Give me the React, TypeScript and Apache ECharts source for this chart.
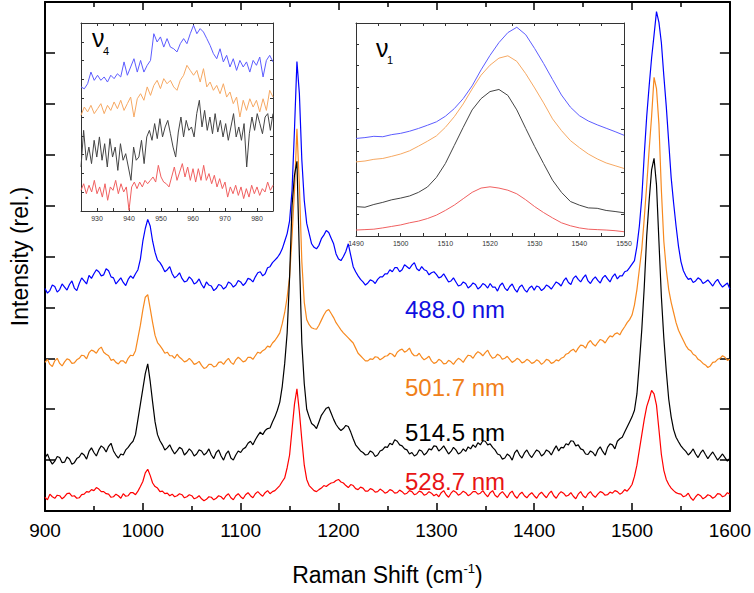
import React, { useEffect, useRef } from "react";
import * as echarts from "echarts";

// ---------- main spectra (x: 900..1600 cm^-1, step 2.5) ----------
const WN_START = 900;
const WN_STEP = 2.5;

// 488.0 nm
const blue488 = [
  4.37, 4.28, 4.33, 4.44, 4.41, 4.30, 4.35, 4.46, 4.40, 4.34, 4.45, 4.52, 4.38, 4.33, 4.47, 4.58, 4.52, 4.46, 4.63, 4.57,
  4.66, 4.74, 4.70, 4.62, 4.64, 4.76, 4.72, 4.60, 4.58, 4.46, 4.52, 4.58, 4.49, 4.43, 4.55, 4.62, 4.57, 4.66, 4.74, 4.95,
  5.30, 5.55, 5.73, 5.60, 5.30, 5.08, 4.93, 4.88, 4.80, 4.70, 4.74, 4.80, 4.66, 4.58, 4.62, 4.68, 4.57, 4.50, 4.52, 4.60,
  4.55, 4.46, 4.49, 4.56, 4.45, 4.38, 4.50, 4.44, 4.42, 4.33, 4.37, 4.45, 4.43, 4.36, 4.40, 4.50, 4.47, 4.40, 4.44, 4.53,
  4.50, 4.43, 4.48, 4.57, 4.55, 4.50, 4.60, 4.68, 4.70, 4.62, 4.66, 4.78, 4.80, 4.88, 4.93, 4.98, 5.05, 5.15, 5.30, 5.45,
  5.70, 6.30, 7.50, 8.83, 8.20, 6.90, 6.10, 5.65, 5.45, 5.25, 5.18, 5.15, 5.22, 5.35, 5.42, 5.51, 5.47, 5.36, 5.25, 5.05,
  4.95, 4.92, 5.00, 5.10, 5.25, 5.02, 4.80, 4.70, 4.62, 4.55, 4.50, 4.44, 4.48, 4.54, 4.52, 4.47, 4.55, 4.60, 4.60, 4.66,
  4.66, 4.74, 4.70, 4.78, 4.78, 4.70, 4.74, 4.84, 4.80, 4.76, 4.83, 4.88, 4.76, 4.72, 4.80, 4.74, 4.72, 4.64, 4.68, 4.70,
  4.65, 4.58, 4.60, 4.66, 4.58, 4.50, 4.52, 4.58, 4.50, 4.42, 4.44, 4.50, 4.47, 4.38, 4.42, 4.48, 4.45, 4.36, 4.40, 4.47,
  4.44, 4.38, 4.47, 4.40, 4.40, 4.32, 4.43, 4.48, 4.38, 4.33, 4.41, 4.46, 4.36, 4.30, 4.40, 4.44, 4.35, 4.30, 4.38, 4.42,
  4.34, 4.42, 4.40, 4.33, 4.37, 4.44, 4.41, 4.36, 4.43, 4.50, 4.47, 4.42, 4.52, 4.58, 4.49, 4.45, 4.57, 4.62, 4.55, 4.50,
  4.58, 4.64, 4.52, 4.47, 4.55, 4.60, 4.53, 4.48, 4.58, 4.63, 4.56, 4.50, 4.60, 4.66, 4.56, 4.62, 4.62, 4.70, 4.72, 4.78,
  4.85, 4.92, 5.20, 5.60, 6.16, 7.00, 7.75, 8.35, 8.90, 9.35, 9.81, 9.60, 9.20, 8.55, 7.95, 7.25, 6.55, 6.05, 5.60, 5.20,
  4.90, 4.72, 4.62, 4.55, 4.57, 4.49, 4.52, 4.58, 4.55, 4.47, 4.50, 4.54, 4.48, 4.42, 4.50, 4.55, 4.46, 4.40, 4.44, 4.48,
  4.36,
];

// 501.7 nm
const orange501 = [
  2.92, 2.98, 2.88, 2.84, 2.95, 3.00, 2.90, 2.85, 2.93, 2.99, 2.97, 2.90, 2.91, 2.97, 3.00, 3.06, 3.05, 2.99, 3.11, 3.16,
  3.14, 3.10, 3.18, 3.22, 3.12, 3.08, 3.05, 2.96, 2.98, 2.92, 2.89, 2.95, 2.95, 2.90, 3.00, 3.06, 3.05, 3.15, 3.40, 3.65,
  3.95, 4.20, 4.25, 3.98, 3.70, 3.45, 3.31, 3.25, 3.18, 3.10, 3.12, 3.05, 3.05, 3.00, 3.08, 3.02, 2.98, 2.93, 2.95, 3.00,
  2.95, 2.88, 2.90, 2.94, 2.86, 2.80, 2.82, 2.88, 2.88, 2.83, 2.85, 2.92, 2.93, 2.88, 2.95, 3.00, 2.92, 2.88, 2.97, 3.02,
  2.98, 2.93, 2.95, 3.02, 3.02, 2.98, 3.05, 3.12, 3.10, 3.15, 3.18, 3.24, 3.22, 3.30, 3.35, 3.42, 3.50, 3.68, 3.90, 4.20,
  4.60, 5.40, 6.30, 7.51, 6.40, 4.90, 4.10, 3.76, 3.66, 3.60, 3.58, 3.57, 3.65, 3.75, 3.85, 3.93, 3.96, 3.88, 3.80, 3.70,
  3.63, 3.56, 3.50, 3.45, 3.40, 3.35, 3.30, 3.20, 3.10, 3.05, 3.00, 2.95, 2.95, 2.99, 2.98, 3.03, 3.02, 2.97, 3.00, 3.04,
  3.05, 3.10, 3.08, 3.03, 3.12, 3.16, 3.18, 3.12, 3.15, 3.20, 3.10, 3.05, 3.05, 3.10, 3.02, 2.97, 3.00, 3.04, 2.95, 2.90,
  2.92, 2.98, 2.95, 2.89, 2.90, 2.96, 2.93, 2.88, 2.95, 3.00, 2.97, 2.92, 3.00, 3.06, 3.05, 3.00, 3.08, 3.13, 3.10, 3.05,
  3.11, 3.16, 3.06, 3.00, 3.02, 3.08, 3.05, 2.98, 3.00, 3.04, 2.98, 2.92, 2.95, 3.00, 2.97, 2.91, 2.93, 2.98, 2.95, 2.90,
  2.92, 2.97, 2.94, 2.88, 2.92, 2.98, 2.96, 2.90, 2.92, 2.97, 2.95, 3.00, 3.02, 3.08, 3.10, 3.15, 3.18, 3.12, 3.20, 3.26,
  3.25, 3.20, 3.30, 3.35, 3.28, 3.24, 3.31, 3.37, 3.35, 3.30, 3.38, 3.44, 3.42, 3.48, 3.50, 3.46, 3.55, 3.62, 3.70, 3.76,
  3.85, 4.05, 4.35, 4.75, 5.15, 5.75, 6.40, 7.10, 7.75, 8.52, 8.30, 7.60, 6.30, 5.30, 4.75, 4.35, 4.10, 3.90, 3.70, 3.55,
  3.45, 3.35, 3.25, 3.18, 3.15, 3.08, 3.05, 2.98, 2.95, 2.90, 2.87, 2.82, 2.85, 2.92, 2.93, 2.98, 3.00, 3.05, 3.02, 2.96,
  2.98,
];

// 514.5 nm
const black514 = [
  1.04, 1.12, 1.00, 0.92, 0.98, 1.07, 1.05, 0.95, 0.96, 1.06, 1.02, 0.92, 0.95, 1.03, 1.06, 1.14, 1.10, 1.02, 1.17, 1.24,
  1.15, 1.08, 1.20, 1.28, 1.24, 1.16, 1.27, 1.33, 1.18, 1.10, 1.04, 1.12, 1.10, 1.20, 1.25, 1.32, 1.37, 1.50, 1.80, 2.10,
  2.40, 2.70, 2.89, 2.55, 2.14, 1.75, 1.50, 1.38, 1.30, 1.20, 1.24, 1.30, 1.20, 1.12, 1.18, 1.25, 1.22, 1.10, 1.15, 1.22,
  1.17, 1.08, 1.12, 1.20, 1.18, 1.10, 1.14, 1.22, 1.10, 1.03, 1.15, 1.20, 1.08, 1.00, 1.12, 1.18, 1.04, 1.00, 1.10, 1.18,
  1.15, 1.22, 1.25, 1.33, 1.37, 1.30, 1.40, 1.48, 1.55, 1.50, 1.58, 1.62, 1.63, 1.75, 1.85, 1.98, 2.14, 2.45, 2.90, 3.50,
  4.60, 6.00, 6.60, 6.87, 5.00, 3.30, 2.50, 2.00, 1.85, 1.72, 1.68, 1.62, 1.75, 1.88, 1.95, 2.02, 2.04, 1.92, 1.80, 1.70,
  1.63, 1.58, 1.62, 1.68, 1.66, 1.55, 1.42, 1.30, 1.24, 1.18, 1.15, 1.10, 1.11, 1.18, 1.15, 1.07, 1.10, 1.18, 1.20, 1.26,
  1.25, 1.33, 1.30, 1.40, 1.37, 1.30, 1.28, 1.22, 1.20, 1.12, 1.15, 1.08, 1.11, 1.20, 1.18, 1.10, 1.14, 1.22, 1.20, 1.28,
  1.27, 1.18, 1.22, 1.28, 1.20, 1.12, 1.17, 1.25, 1.20, 1.12, 1.15, 1.22, 1.17, 1.26, 1.22, 1.30, 1.25, 1.34, 1.30, 1.38,
  1.37, 1.30, 1.32, 1.25, 1.20, 1.12, 1.10, 1.02, 1.04, 1.12, 1.08, 1.00, 1.14, 1.20, 1.10, 1.04, 1.14, 1.20, 1.11, 1.05,
  1.13, 1.20, 1.17, 1.08, 1.12, 1.20, 1.17, 1.10, 1.20, 1.28, 1.18, 1.25, 1.24, 1.32, 1.30, 1.38, 1.37, 1.28, 1.30, 1.22,
  1.20, 1.12, 1.11, 1.18, 1.15, 1.08, 1.20, 1.26, 1.17, 1.10, 1.25, 1.32, 1.30, 1.22, 1.37, 1.42, 1.45, 1.55, 1.65, 1.75,
  1.85, 1.98, 2.30, 2.90, 3.57, 4.40, 5.40, 6.10, 6.70, 6.93, 6.41, 5.30, 4.21, 3.40, 2.75, 2.20, 1.85, 1.60, 1.45, 1.36,
  1.28, 1.22, 1.17, 1.10, 1.15, 1.22, 1.12, 1.05, 1.14, 1.20, 1.11, 1.03, 1.10, 1.16, 1.08, 1.00, 1.06, 1.12, 1.05, 0.98,
  1.04,
];

// 528.7 nm
const red528 = [
  0.27, 0.22, 0.33, 0.28, 0.25, 0.31, 0.30, 0.24, 0.28, 0.34, 0.35, 0.29, 0.30, 0.25, 0.26, 0.32, 0.33, 0.38, 0.37, 0.42,
  0.40, 0.46, 0.43, 0.38, 0.38, 0.34, 0.33, 0.27, 0.28, 0.33, 0.30, 0.25, 0.34, 0.29, 0.30, 0.36, 0.36, 0.32, 0.39, 0.48,
  0.58, 0.75, 0.82, 0.70, 0.55, 0.48, 0.45, 0.38, 0.39, 0.34, 0.35, 0.30, 0.33, 0.28, 0.30, 0.34, 0.32, 0.26, 0.28, 0.32,
  0.30, 0.24, 0.26, 0.30, 0.24, 0.20, 0.23, 0.28, 0.27, 0.22, 0.25, 0.30, 0.28, 0.23, 0.30, 0.34, 0.26, 0.22, 0.30, 0.34,
  0.28, 0.24, 0.32, 0.36, 0.30, 0.26, 0.34, 0.38, 0.33, 0.29, 0.36, 0.40, 0.34, 0.38, 0.40, 0.45, 0.50, 0.58, 0.65, 0.85,
  1.10, 1.60, 2.10, 2.40, 1.95, 1.40, 0.90, 0.62, 0.50, 0.45, 0.40, 0.38, 0.42, 0.45, 0.50, 0.48, 0.52, 0.55, 0.56, 0.60,
  0.62, 0.57, 0.55, 0.50, 0.46, 0.52, 0.50, 0.44, 0.42, 0.47, 0.45, 0.39, 0.39, 0.44, 0.42, 0.37, 0.38, 0.43, 0.40, 0.35,
  0.37, 0.42, 0.40, 0.35, 0.36, 0.41, 0.38, 0.33, 0.35, 0.40, 0.38, 0.32, 0.34, 0.39, 0.37, 0.31, 0.33, 0.38, 0.35, 0.30,
  0.33, 0.28, 0.36, 0.40, 0.32, 0.27, 0.35, 0.40, 0.37, 0.31, 0.34, 0.39, 0.36, 0.30, 0.33, 0.38, 0.38, 0.33, 0.35, 0.40,
  0.33, 0.28, 0.36, 0.40, 0.31, 0.27, 0.34, 0.38, 0.32, 0.26, 0.35, 0.39, 0.30, 0.25, 0.33, 0.37, 0.30, 0.26, 0.32, 0.36,
  0.30, 0.25, 0.33, 0.37, 0.31, 0.26, 0.34, 0.39, 0.30, 0.25, 0.33, 0.38, 0.35, 0.29, 0.31, 0.36, 0.29, 0.24, 0.33, 0.38,
  0.30, 0.26, 0.34, 0.38, 0.31, 0.27, 0.33, 0.38, 0.36, 0.31, 0.32, 0.37, 0.35, 0.40, 0.38, 0.33, 0.36, 0.42, 0.39, 0.45,
  0.52, 0.68, 0.90, 1.20, 1.50, 1.80, 2.05, 2.20, 2.37, 2.30, 2.08, 1.60, 1.11, 0.80, 0.62, 0.52, 0.45, 0.40, 0.36, 0.34,
  0.33, 0.28, 0.30, 0.35, 0.26, 0.21, 0.28, 0.33, 0.30, 0.24, 0.27, 0.32, 0.30, 0.25, 0.28, 0.34, 0.33, 0.28, 0.30, 0.36,
  0.33,
];

const mainLabels = ["488.0 nm", "501.7 nm", "514.5 nm", "528.7 nm"];
const xTickLabels = ["900", "1000", "1100", "1200", "1300", "1400", "1500", "1600"];

// ---------- inset nu4 (925..985 cm^-1) ----------
const nu4Range = [925, 985];
const nu4Blue = [
  6.60, 6.50, 6.77, 7.39, 6.95, 7.22, 6.95, 7.13, 6.86, 7.22, 7.04, 7.30, 7.13, 7.93, 7.22,
  7.66, 8.10, 7.39, 8.01, 7.39, 7.75, 8.01, 9.43, 8.99, 9.26, 8.72, 9.17, 8.72, 8.63, 8.46,
  8.90, 9.17, 8.90, 9.43, 9.88, 9.43, 9.70, 9.52, 9.17, 8.81, 8.37, 8.10, 8.63, 7.93, 8.28,
  7.66, 8.10, 7.48, 8.01, 7.66, 7.93, 7.39, 8.01, 7.75, 8.19, 7.13, 8.01, 8.28, 7.93,
];
const nu4Orange = [
  5.09, 5.53, 5.27, 5.62, 5.18, 5.44, 5.71, 5.18, 5.62, 5.35, 5.80, 5.44, 5.89, 5.35, 5.71,
  6.06, 5.00, 5.97, 6.24, 5.89, 6.60, 6.15, 6.68, 6.95, 6.51, 7.04, 6.77, 6.95, 6.60, 6.42,
  6.95, 7.22, 7.75, 7.48, 7.22, 7.48, 6.86, 7.57, 6.60, 6.86, 6.42, 6.68, 6.24, 6.77, 6.06,
  6.33, 5.71, 6.06, 5.00, 5.89, 5.35, 5.97, 5.53, 5.89, 5.27, 5.97, 5.35, 6.42, 6.06,
];
const nu4Black = [
  2.34, 4.29, 2.70, 3.40, 2.52, 3.76, 2.87, 3.94, 2.70, 3.58, 2.34, 3.85, 2.87, 3.40, 2.16,
  3.58, 2.70, 3.05, 2.34, 1.63, 3.40, 2.70, 2.87, 3.76, 2.52, 3.94, 4.29, 3.76, 4.65, 3.85,
  4.91, 3.94, 4.47, 4.82, 4.11, 3.40, 2.87, 4.20, 5.00, 3.94, 4.82, 4.29, 4.47, 3.94, 5.18,
  5.89, 4.47, 5.35, 4.29, 5.00, 4.11, 5.18, 4.20, 4.82, 3.94, 4.65, 3.76, 4.47, 5.18, 3.94,
  4.47, 3.76, 4.65, 2.34, 4.11, 5.00, 4.29, 5.18, 4.65, 4.11, 5.00, 5.18, 4.29, 5.18,
];
const nu4Red = [
  1.10, 1.45, 0.92, 1.37, 1.01, 1.63, 0.92, 1.28, 0.74, 1.45, 0.57, 1.28, 1.10, 1.63, 0.92,
  1.45, 1.01, 1.28, 0.04, 1.28, 1.54, 1.19, 1.54, 1.28, 1.63, 1.45, 1.63, 1.81, 1.54, 2.43,
  1.81, 1.54, 1.45, 1.28, 1.81, 2.34, 1.63, 2.07, 2.52, 1.81, 2.34, 1.63, 2.25, 1.54, 2.25,
  1.63, 2.43, 1.63, 1.99, 1.45, 1.90, 1.28, 1.72, 1.19, 1.54, 0.74, 1.28, 0.92, 1.37, 0.83,
  1.28, 0.66, 1.19, 0.74, 1.37, 0.92, 1.28, 0.83, 1.19, 1.01, 1.54, 1.10, 1.37,
];

// ---------- inset nu1 (1490..1550 cm^-1, step 2) ----------
const nu1Start = 1490;
const nu1Step = 2;
const nu1Blue = [
  4.58, 4.62, 4.68, 4.66, 4.76, 4.82, 4.92, 5.05, 5.20, 5.36, 5.62, 5.98, 6.45, 7.05, 7.80, 8.48,
  9.08, 9.55, 9.80, 9.45, 8.80, 8.10, 7.35, 6.62, 6.05, 5.65, 5.40, 5.22, 5.06, 4.90, 4.73,
];
const nu1Orange = [
  3.48, 3.52, 3.60, 3.64, 3.74, 3.85, 4.00, 4.22, 4.45, 4.70, 5.10, 5.60, 6.20, 6.90, 7.55, 8.02,
  8.35, 8.46, 8.20, 7.62, 6.95, 6.25, 5.50, 4.95, 4.48, 4.15, 3.85, 3.62, 3.43, 3.30, 3.17,
];
const nu1Black = [
  1.38, 1.35, 1.48, 1.58, 1.70, 1.78, 1.88, 2.05, 2.30, 2.75, 3.40, 4.25, 5.10, 5.92, 6.45, 6.78,
  6.88, 6.60, 5.92, 5.05, 4.20, 3.40, 2.62, 2.05, 1.62, 1.45, 1.32, 1.30, 1.20, 1.15, 1.09,
];
const nu1Red = [
  0.28, 0.30, 0.32, 0.38, 0.45, 0.52, 0.62, 0.70, 0.82, 0.98, 1.20, 1.45, 1.75, 2.05, 2.25, 2.31,
  2.25, 2.15, 1.98, 1.70, 1.38, 1.10, 0.85, 0.62, 0.48, 0.38, 0.32, 0.30, 0.28, 0.25, 0.20,
];

const COLORS = ["#0000ff", "#f7891f", "#000000", "#ff0000"];
const LABEL_COLORS = ["#1010e0", "#f0801a", "#000000", "#e81414"];
const INSET_COLORS = ["#5c5cff", "#f6a862", "#444444", "#f06060"];
const FONT = "'Liberation Sans', Arial, Helvetica, sans-serif";

const stepX = (vals: number[], start: number, step: number) => vals.map((v, i) => [start + i * step, v]);
const evenX = (vals: number[], lo: number, hi: number) =>
  vals.map((v, i) => [lo + ((hi - lo) * i) / (vals.length - 1), v]);

export default function App() {
  const ref = useRef<HTMLDivElement>(null);
  useEffect(() => {
    if (!ref.current) return;
    const chart = echarts.init(ref.current, undefined, { renderer: "svg" });

    const mainAxisLine = { onZero: false, lineStyle: { color: "#000", width: 2 } };
    const insetAxisLine = { onZero: false, lineStyle: { color: "#333", width: 1 } };

    const mainX = (pos: "bottom" | "top") => ({
      type: "value",
      gridIndex: 0,
      position: pos,
      min: 900,
      max: 1600,
      interval: 100,
      axisLine: mainAxisLine,
      axisTick: { inside: true, length: 8, lineStyle: { color: "#000", width: 1.5 } },
      minorTick: { show: true, splitNumber: 2, length: 5, lineStyle: { color: "#000", width: 1.5 } },
      splitLine: { show: false },
      minorSplitLine: { show: false },
      axisLabel: pos === "bottom"
        ? {
            show: true,
            fontSize: 19,
            color: "#000",
            margin: 10,
            fontFamily: FONT,
            formatter: (v: number) => xTickLabels[Math.round((v - 900) / 100)] ?? String(v),
          }
        : { show: false },
      ...(pos === "bottom"
        ? {
            name: "Raman Shift (cm{sup|-1})",
            nameLocation: "middle",
            nameGap: 51,
            nameTextStyle: {
              fontSize: 23,
              color: "#000",
              fontFamily: FONT,
              lineHeight: 26,
              rich: { sup: { fontSize: 13, color: "#000", fontFamily: FONT, verticalAlign: "top", lineHeight: 26 } },
            },
          }
        : {}),
    });
    const mainY = (pos: "left" | "right") => ({
      type: "value",
      gridIndex: 0,
      position: pos,
      min: 0,
      max: 10,
      interval: 1,
      axisLine: mainAxisLine,
      axisTick: { inside: true, length: 10, lineStyle: { color: "#000", width: 1.5 } },
      splitLine: { show: false },
      axisLabel: { show: false },
      ...(pos === "left"
        ? {
            name: "Intensity (rel.)",
            nameLocation: "middle",
            nameGap: 14,
            nameRotate: 90,
            nameTextStyle: { fontSize: 23, color: "#000", fontFamily: FONT },
          }
        : {}),
    });

    const insetX = (grid: number, pos: "bottom" | "top", min: number, max: number, interval: number, minor: boolean) => ({
      type: "value",
      gridIndex: grid,
      position: pos,
      min,
      max,
      interval,
      axisLine: insetAxisLine,
      axisTick: { inside: true, length: 3, lineStyle: { color: "#333", width: 1 } },
      minorTick: { show: minor, splitNumber: 2, length: 3, lineStyle: { color: "#333", width: 1 } },
      splitLine: { show: false },
      minorSplitLine: { show: false },
      axisLabel: pos === "bottom"
        ? {
            show: true,
            fontSize: 7,
            color: "#333",
            margin: 4,
            fontFamily: FONT,
            formatter: (v: number) => (v % 10 === 0 ? String(v) : ""),
          }
        : { show: false },
    });
    const insetY = (grid: number, pos: "left" | "right") => ({
      type: "value",
      gridIndex: grid,
      position: pos,
      min: 0,
      max: 10,
      interval: 1,
      axisLine: insetAxisLine,
      axisTick: { inside: true, length: 3, lineStyle: { color: "#333", width: 1 } },
      splitLine: { show: false },
      axisLabel: { show: false },
    });

    const mainSeries = [blue488, orange501, black514, red528].map((vals, i) => ({
      type: "line",
      name: mainLabels[i],
      xAxisIndex: 0,
      yAxisIndex: 0,
      data: stepX(vals, WN_START, WN_STEP),
      showSymbol: false,
      symbol: "none",
      lineStyle: { color: COLORS[i], width: 1.2 },
      z: 3 + i,
    }));
    const nu4Series = [nu4Blue, nu4Orange, nu4Black, nu4Red].map((vals, i) => ({
      type: "line",
      xAxisIndex: 2,
      yAxisIndex: 2,
      data: evenX(vals, nu4Range[0], nu4Range[1]),
      symbol: "none",
      lineStyle: { color: INSET_COLORS[i], width: 1 },
    }));
    const nu1Series = [nu1Blue, nu1Orange, nu1Black, nu1Red].map((vals, i) => ({
      type: "line",
      xAxisIndex: 3,
      yAxisIndex: 3,
      data: stepX(vals, nu1Start, nu1Step),
      symbol: "none",
      lineStyle: { color: INSET_COLORS[i], width: 1 },
    }));

    const labelY = [309, 387, 432, 481];

    chart.setOption({
      animation: false,
      backgroundColor: "#fff",
      textStyle: { fontFamily: FONT },
      grid: [
        { left: 43, right: 22, top: 2, bottom: 76 },
        { left: 81, top: 23, width: 192, height: 188, show: true, backgroundColor: "#fff", borderWidth: 0 },
        { left: 356, top: 23, width: 268, height: 213, show: true, backgroundColor: "#fff", borderWidth: 0 },
      ],
      xAxis: [
        mainX("bottom"),
        mainX("top"),
        insetX(1, "bottom", nu4Range[0], nu4Range[1], 5, false),
        insetX(2, "bottom", 1490, 1550, 10, true),
        insetX(1, "top", nu4Range[0], nu4Range[1], 5, false),
        insetX(2, "top", 1490, 1550, 10, true),
      ],
      yAxis: [
        mainY("left"),
        mainY("right"),
        insetY(1, "left"),
        insetY(2, "left"),
        insetY(1, "right"),
        insetY(2, "right"),
      ],
      series: [...mainSeries, ...nu4Series, ...nu1Series],
      graphic: [
        ...mainLabels.map((t, i) => ({
          type: "text",
          x: 405,
          y: labelY[i],
          style: { text: t, fontSize: 24, fill: LABEL_COLORS[i], fontFamily: FONT, verticalAlign: "middle", align: "left" },
          z: 10,
        })),
        { type: "text", x: 92, y: 38, style: { text: "ν", fontSize: 25, fill: "#000", fontFamily: FONT, verticalAlign: "middle" }, z: 10 },
        { type: "text", x: 103, y: 51, style: { text: "4", fontSize: 11, fill: "#000", fontFamily: FONT, verticalAlign: "middle" }, z: 10 },
        { type: "text", x: 376, y: 48, style: { text: "ν", fontSize: 25, fill: "#000", fontFamily: FONT, verticalAlign: "middle" }, z: 10 },
        { type: "text", x: 387, y: 60, style: { text: "1", fontSize: 11, fill: "#000", fontFamily: FONT, verticalAlign: "middle" }, z: 10 },
      ],
    });
    return () => chart.dispose();
  }, []);
  return <div ref={ref} style={{ width: 754, height: 593, position: "absolute", left: 0, top: 0 }} />;
}
